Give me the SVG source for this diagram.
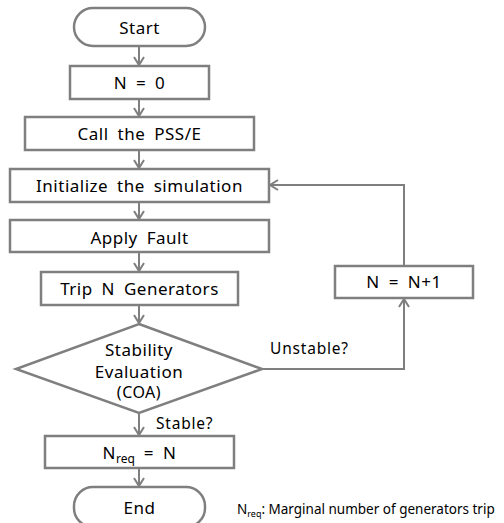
<svg xmlns="http://www.w3.org/2000/svg" width="504" height="523" viewBox="0 0 504 523">
<defs>
<marker id="arr" markerWidth="12" markerHeight="12" refX="10" refY="6" orient="auto" markerUnits="userSpaceOnUse">
<path d="M2,1 L10,6 L2,11" fill="none" stroke="#7f7f7f" stroke-width="2"/>
</marker>
<style>
.b{fill:#fff;stroke:#7f7f7f;stroke-width:2.5}
.c{fill:none;stroke:#7f7f7f;stroke-width:2}
text{font-family:"Noto Sans","Open Sans",sans-serif;font-size:17px;fill:#000;text-anchor:middle;letter-spacing:0.5px;word-spacing:4px}
.l{text-anchor:start;font-size:15.5px;letter-spacing:0.8px}
.f{text-anchor:start;font-size:13.5px;letter-spacing:0;word-spacing:0}
</style>
</defs>
<rect width="504" height="523" fill="#fff"/>
<g id="connectors">
<line class="c" x1="139" y1="46" x2="139" y2="65" marker-end="url(#arr)"/>
<line class="c" x1="139" y1="99" x2="139" y2="116" marker-end="url(#arr)"/>
<line class="c" x1="139" y1="150" x2="139" y2="168" marker-end="url(#arr)"/>
<line class="c" x1="139" y1="202" x2="139" y2="219" marker-end="url(#arr)"/>
<line class="c" x1="139" y1="252" x2="139" y2="271" marker-end="url(#arr)"/>
<line class="c" x1="139" y1="305" x2="139" y2="323" marker-end="url(#arr)"/>
<line class="c" x1="139" y1="413" x2="139" y2="435" marker-end="url(#arr)"/>
<line class="c" x1="139" y1="468" x2="139" y2="486" marker-end="url(#arr)"/>
<polyline class="c" points="262,369 404,369 404,299" marker-end="url(#arr)"/>
<polyline class="c" points="404,266 404,185 270,185" marker-end="url(#arr)"/>
<text class="l" x="270" y="354">Unstable?</text>
<text class="l" x="156" y="429">Stable?</text>
</g>
<g id="start"><rect class="b" x="74" y="8" width="131" height="38" rx="19"/><text x="139.5" y="34">Start</text></g>
<g id="n0"><rect class="b" x="70" y="66" width="139" height="33"/><text x="139.5" y="89">N = 0</text></g>
<g id="pss"><rect class="b" x="25" y="117" width="229" height="33"/><text x="139.5" y="140">Call the PSS/E</text></g>
<g id="init"><rect class="b" x="10" y="169" width="259" height="33"/><text x="139.5" y="192">Initialize the simulation</text></g>
<g id="fault"><rect class="b" x="10" y="220" width="259" height="32"/><text x="139.5" y="244">Apply Fault</text></g>
<g id="trip"><rect class="b" x="41" y="272" width="197" height="33"/><text x="139.5" y="295">Trip N Generators</text></g>
<g id="inc"><rect class="b" x="335" y="266" width="138" height="32"/><text x="404" y="288">N = N+1</text></g>
<g id="eval"><polygon class="b" points="139,324 262,369 139,413 16,369"/><text x="139" y="356">Stability</text><text x="139" y="378">Evaluation</text><text x="139" y="398" style="font-size:16px">(COA)</text></g>
<g id="nreq"><rect class="b" x="45" y="436" width="189" height="32"/><text x="139.5" y="459">N<tspan dy="4" style="font-size:12px;letter-spacing:0">req</tspan><tspan dy="-4"> = N</tspan></text></g>
<g id="end"><rect class="b" x="74" y="487" width="131" height="40" rx="19"/><text x="139.5" y="514">End</text></g>
<g id="note"><text class="f" x="237" y="514">N<tspan dy="3" style="font-size:9px">req</tspan><tspan dy="-3">: Marginal number of generators trip</tspan></text></g>
</svg>
